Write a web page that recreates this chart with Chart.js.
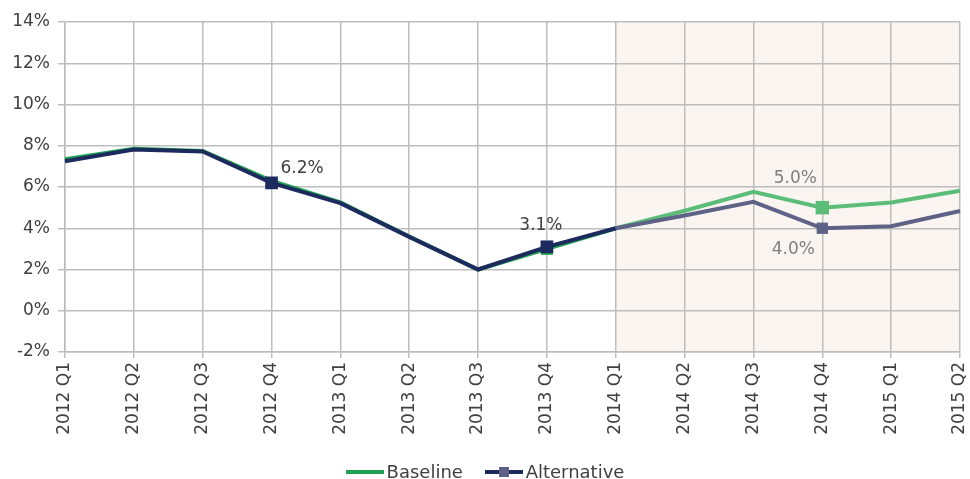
<!DOCTYPE html>
<html><head><meta charset="utf-8">
<script src="https://cdn.jsdelivr.net/npm/chart.js@4/dist/chart.umd.min.js"></script>
<style>
html,body{margin:0;padding:0;background:#fff;}
#wrap{position:relative;width:970px;height:479px;}
#legend{position:absolute;left:0;top:456px;width:970px;text-align:center;font-family:"DejaVu Sans",sans-serif;font-size:18px;color:#404040;line-height:24px;}
.li{display:inline-flex;align-items:center;margin:0 8px;}
.ln{display:inline-block;width:38px;height:4px;position:relative;margin-right:3px;}
.mk{position:absolute;width:10px;height:10px;left:14px;top:-3px;}
</style></head>
<body>
<div id="wrap"><canvas id="c" width="970" height="479"></canvas>
<div id="legend">
<span class="li"><span class="ln" style="background:#21a153"></span>Baseline</span>
<span class="li"><span class="ln" style="background:#1c2a5e"><span class="mk" style="background:#5f6287"></span></span>Alternative</span>
</div></div>
<script>
const categories = ["2012 Q1","2012 Q2","2012 Q3","2012 Q4","2013 Q1","2013 Q2","2013 Q3","2013 Q4","2014 Q1","2014 Q2","2014 Q3","2014 Q4","2015 Q1","2015 Q2"];
const baseline = [7.35,7.85,7.75,6.3,5.25,3.6,2.0,3.0,4.0,4.85,5.77,5.0,5.25,5.82];
const alternative = [7.25,7.82,7.72,6.2,5.22,3.58,2.0,3.1,4.0,4.62,5.28,4.0,4.1,4.84];
const yTicks = [-2,0,2,4,6,8,10,12,14];
const forecastStart = 8;
const labelled = [
  {ds:1, i:3, text:"6.2%", dx:9, dy:-14, align:"left", color:"#404040"},
  {ds:1, i:7, text:"3.1%", dx:-6, dy:-21, align:"center", color:"#404040"},
  {ds:0, i:11, text:"5.0%", dx:-27, dy:-29, align:"center", color:"#7f7f7f"},
  {ds:1, i:11, text:"4.0%", dx:-29, dy:21, align:"center", color:"#7f7f7f"}
];
const FONT = '"DejaVu Sans", sans-serif';

const shade = {
  id:'shade',
  beforeDraw(chart){
    const {ctx, chartArea:a, scales:{x}} = chart;
    const x0 = x.getPixelForValue(forecastStart);
    ctx.save(); ctx.fillStyle = '#faf5f1';
    ctx.fillRect(x0, a.top, a.right - x0, a.bottom - a.top);
    ctx.restore();
  }
};
const labels = {
  id:'labels',
  afterDatasetsDraw(chart){
    const ctx = chart.ctx;
    ctx.save(); ctx.font = '17px ' + FONT; ctx.textBaseline = 'middle';
    labelled.forEach(l=>{
      const p = chart.getDatasetMeta(l.ds).data[l.i];
      ctx.fillStyle = l.color; ctx.textAlign = l.align;
      ctx.fillText(l.text, p.x + l.dx, p.y + l.dy);
    });
    ctx.restore();
  }
};
function seg(hist, fut){ return ctx => ctx.p0DataIndex >= forecastStart ? fut : hist; }

new Chart(document.getElementById('c'), {
  type:'line',
  data:{
    labels:categories,
    datasets:[
      {label:'Baseline', data:baseline, order:2, borderWidth:4, borderColor:'#21a153',
       segment:{borderColor:seg('#21a153','#5cbd78')},
       pointStyle:'rect',
       pointRadius:categories.map((c,i)=> i===7?8.5:(i===11?9.5:0)),
       pointBackgroundColor:categories.map((c,i)=> i>=forecastStart?'#5cbd78':'#21a153'),
       pointBorderWidth:0, pointHoverRadius:0},
      {label:'Alternative', data:alternative, order:1, borderWidth:4, borderColor:'#1c2a5e',
       segment:{borderColor:seg('#1c2a5e','#5f6287')},
       pointStyle:'rect',
       pointRadius:categories.map((c,i)=> i===3||i===7?9:(i===11?8:0)),
       pointBackgroundColor:categories.map((c,i)=> i>=forecastStart?'#5f6287':'#1c2a5e'),
       pointBorderWidth:0, pointHoverRadius:0}
    ]
  },
  options:{
    responsive:false, animation:false,
    layout:{padding:{top:22,right:10,left:0,bottom:0}},
    plugins:{legend:{display:false}, tooltip:{enabled:false}},
    elements:{line:{tension:0}},
    scales:{
      x:{
        grid:{color:'#bdbdbd', lineWidth:1.5, tickLength:6, offset:false},
        border:{color:'#bdbdbd', width:1.5},
        offset:false,
        ticks:{maxRotation:90, minRotation:90, color:'#404040', font:{family:FONT, size:17}, padding:4},
        afterFit(s){ s.height = 127; s.paddingLeft = 0; s.paddingRight = 0; }
      },
      y:{
        min:-2, max:14,
        afterBuildTicks(s){ s.ticks = yTicks.map(v=>({value:v})); },
        grid:{color:'#bdbdbd', lineWidth:1.5, tickLength:7},
        border:{color:'#bdbdbd', width:1.5},
        ticks:{color:'#404040', font:{family:FONT, size:17}, padding:8, callback:v=>v+'%'},
        afterFit(s){ s.width = 65; s.paddingTop = 0; s.paddingBottom = 0; }
      }
    }
  },
  plugins:[shade, labels]
});
</script>
</body></html>
